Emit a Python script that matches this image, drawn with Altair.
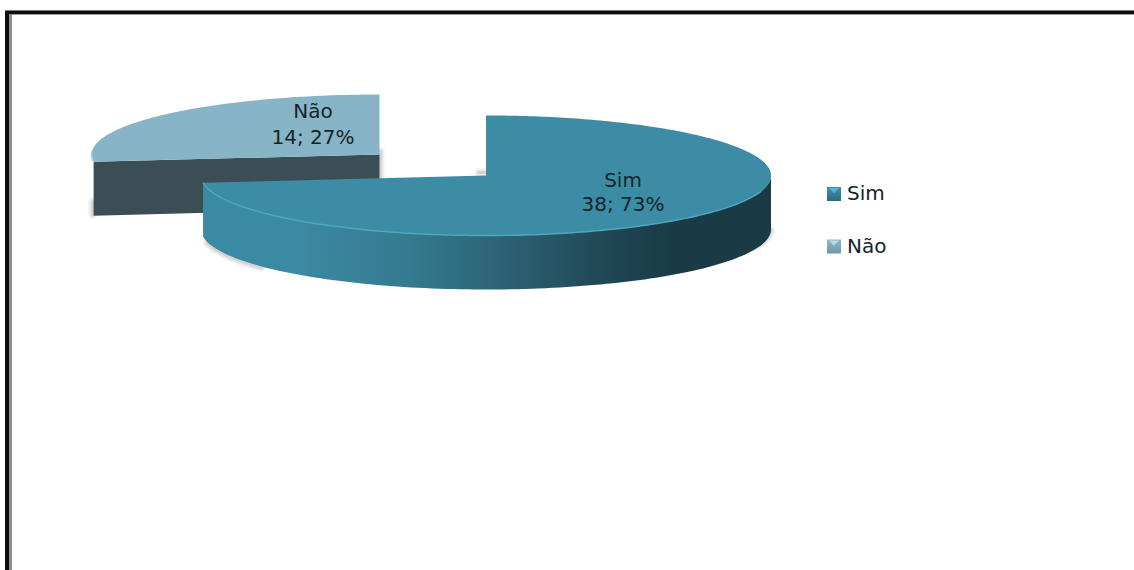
import math
import altair as alt
import pandas as pd

categories = ["Sim", "Não"]
counts = [38, 14]
total = sum(counts)
shares = [c / total for c in counts]

W, H = 1134, 570
FONT = "DejaVu Sans"
sweep = shares[0] * 360

# Ellipse geometry of the two slices (the second one is pulled away from the first)
SIM = dict(cx=486, cy=175.5, rx=285, ry=60, depth=54)
NAO = dict(cx=379.5, cy=154.5, rx=288, ry=60, depth=54)

x_scale = alt.Scale(domain=[0, W], range=[0, W], nice=False, zero=False)
y_scale = alt.Scale(domain=[H, 0], range=[H, 0], nice=False, zero=False)


def on_ellipse(e, deg, drop=0.0):
    a = math.radians(deg)
    return (e["cx"] + e["rx"] * math.sin(a), e["cy"] - e["ry"] * math.cos(a) + drop)


def sweep_pts(e, a0, a1, drop=0.0, n=120):
    return [on_ellipse(e, a0 + (a1 - a0) * i / n, drop) for i in range(n + 1)]


def path(pts, **mark):
    df = pd.DataFrame({"x": [p[0] for p in pts], "y": [p[1] for p in pts], "i": range(len(pts))})
    return (
        alt.Chart(df)
        .mark_line(interpolate="linear", **mark)
        .encode(
            x=alt.X("x:Q", scale=x_scale, axis=None),
            y=alt.Y("y:Q", scale=y_scale, axis=None),
            order="i:Q",
        )
    )


def shape(pts, fill, **mark):
    closed = pts + [pts[0]]
    return path(closed, fill=fill, stroke=None, strokeWidth=0, **mark)


def soft(pts, color="#808080"):
    # a few wide translucent strokes give a blurred drop shadow
    return [path(pts, stroke=color, strokeWidth=w, opacity=o, strokeCap="round")
            for w, o in ((9, 0.08), (6, 0.12), (3, 0.18))]


def rect(x0, x1, y0, y1, color):
    return shape([(x0, y0), (x1, y0), (x1, y1), (x0, y1)], color)


def text(label, x, y, size=20, align="center"):
    df = pd.DataFrame({"x": [x], "y": [y], "t": [label]})
    return (
        alt.Chart(df)
        .mark_text(font=FONT, fontSize=size, color="#14242a", align=align, baseline="middle")
        .encode(
            x=alt.X("x:Q", scale=x_scale, axis=None),
            y=alt.Y("y:Q", scale=y_scale, axis=None),
            text="t:N",
        )
    )


def linear(stops, x1=0, x2=1, y1=0, y2=0):
    return alt.LinearGradient(
        gradient="linear", x1=x1, x2=x2, y1=y1, y2=y2,
        stops=[alt.GradientStop(offset=o, color=c) for o, c in stops],
    )


layers = []

# Window frame: black rules with a grey inner fringe
layers += [
    rect(5, 9, 11, H, "#0d0d0d"),
    rect(9, 12, 14, H, "#8f8f8f"),
    rect(5, W, 10, 11, "#777777"),
    rect(5, W, 11, 14, "#0d0d0d"),
    rect(12, W, 14, 15, "#9a9a9a"),
]

# Detached slice: shadow, wall, top
nao_left = on_ellipse(NAO, sweep)
nao_apex = (NAO["cx"], NAO["cy"])
d = NAO["depth"]
layers += soft([(nao_apex[0] + 1, nao_apex[1] - 3), (nao_apex[0] + 1, nao_apex[1] + 24)])
layers += soft([(nao_left[0] - 1, nao_left[1] + 40), (nao_left[0] - 1, nao_left[1] + d - 1)])
layers.append(shape(
    [nao_left, nao_apex, (nao_apex[0], nao_apex[1] + d), (nao_left[0], nao_left[1] + d)],
    "#3b4e56",
))
nao_top = [nao_apex] + sweep_pts(NAO, sweep, 360)
layers.append(shape(nao_top, "#87b4c6"))
layers.append(path(sweep_pts(NAO, sweep, sweep + 10, n=30), stroke="#a4d3e3", strokeWidth=1.5))

# Main slice: shadow, wall, top, rim highlight
layers += soft(sweep_pts(SIM, 232, 258, drop=SIM["depth"] + 1))
layers += soft([(SIM["cx"] - 7, SIM["cy"] - 3), (SIM["cx"] - 1, SIM["cy"] - 3)])
layers += soft(sweep_pts(SIM, 93, 108, drop=SIM["depth"] - 2), color="#707070")
wall = sweep_pts(SIM, 90, sweep) + sweep_pts(SIM, sweep, 90, drop=SIM["depth"])
layers.append(shape(wall, linear([
    (0.0, "#3b8aa3"), (0.16, "#3b8aa3"), (0.36, "#357a90"), (0.52, "#2d6475"),
    (0.7, "#204856"), (0.83, "#1a3a46"), (1.0, "#1a3a46"),
])))
sim_top = [(SIM["cx"], SIM["cy"])] + sweep_pts(SIM, 0, sweep, n=300)
layers.append(shape(sim_top, "#3d8ca5"))
layers.append(path(sweep_pts(SIM, 105, sweep, n=160), stroke="#4ea6c2", strokeWidth=1.5))

# Slice labels: name on one line, "count; percent" below
label_pos = [(623, 181, 205), (313, 112, 138)]
for name, count, share, (lx, ly0, ly1) in zip(categories, counts, shares, label_pos):
    layers.append(text(name, lx, ly0))
    layers.append(text(f"{count}; {round(share * 100)}%", lx, ly1))

# Legend swatches with a light bevel at the top, then the names
swatch_colors = [("#58b4d0", "#3f93ae", "#2a6a80"), ("#b9dce8", "#8fb8c8", "#6e97a8")]
legend_y = [194, 246.5]
for name, (glow, mid, dark), y in zip(categories, swatch_colors, legend_y):
    x0, x1, y0, y1 = 827, 841, y - 7, y + 7
    layers.append(shape([(x0, y0), (x1, y0), (x1, y1), (x0, y1)],
                        linear([(0, mid), (1, dark)], x1=0, x2=0, y1=0, y2=1)))
    layers.append(shape([(x0 + 2, y0 + 1), (x1 - 2, y0 + 1), ((x0 + x1) / 2, y0 + 6)], glow))
    layers.append(text(name, 847, y, align="left"))

chart = (
    alt.layer(*layers)
    .properties(width=W, height=H, padding=0, autosize=alt.AutoSizeParams(type="none"),
                background="white")
    .configure_view(stroke=None)
)

chart.save("out.html", embed_options={"renderer": "svg", "actions": False})
